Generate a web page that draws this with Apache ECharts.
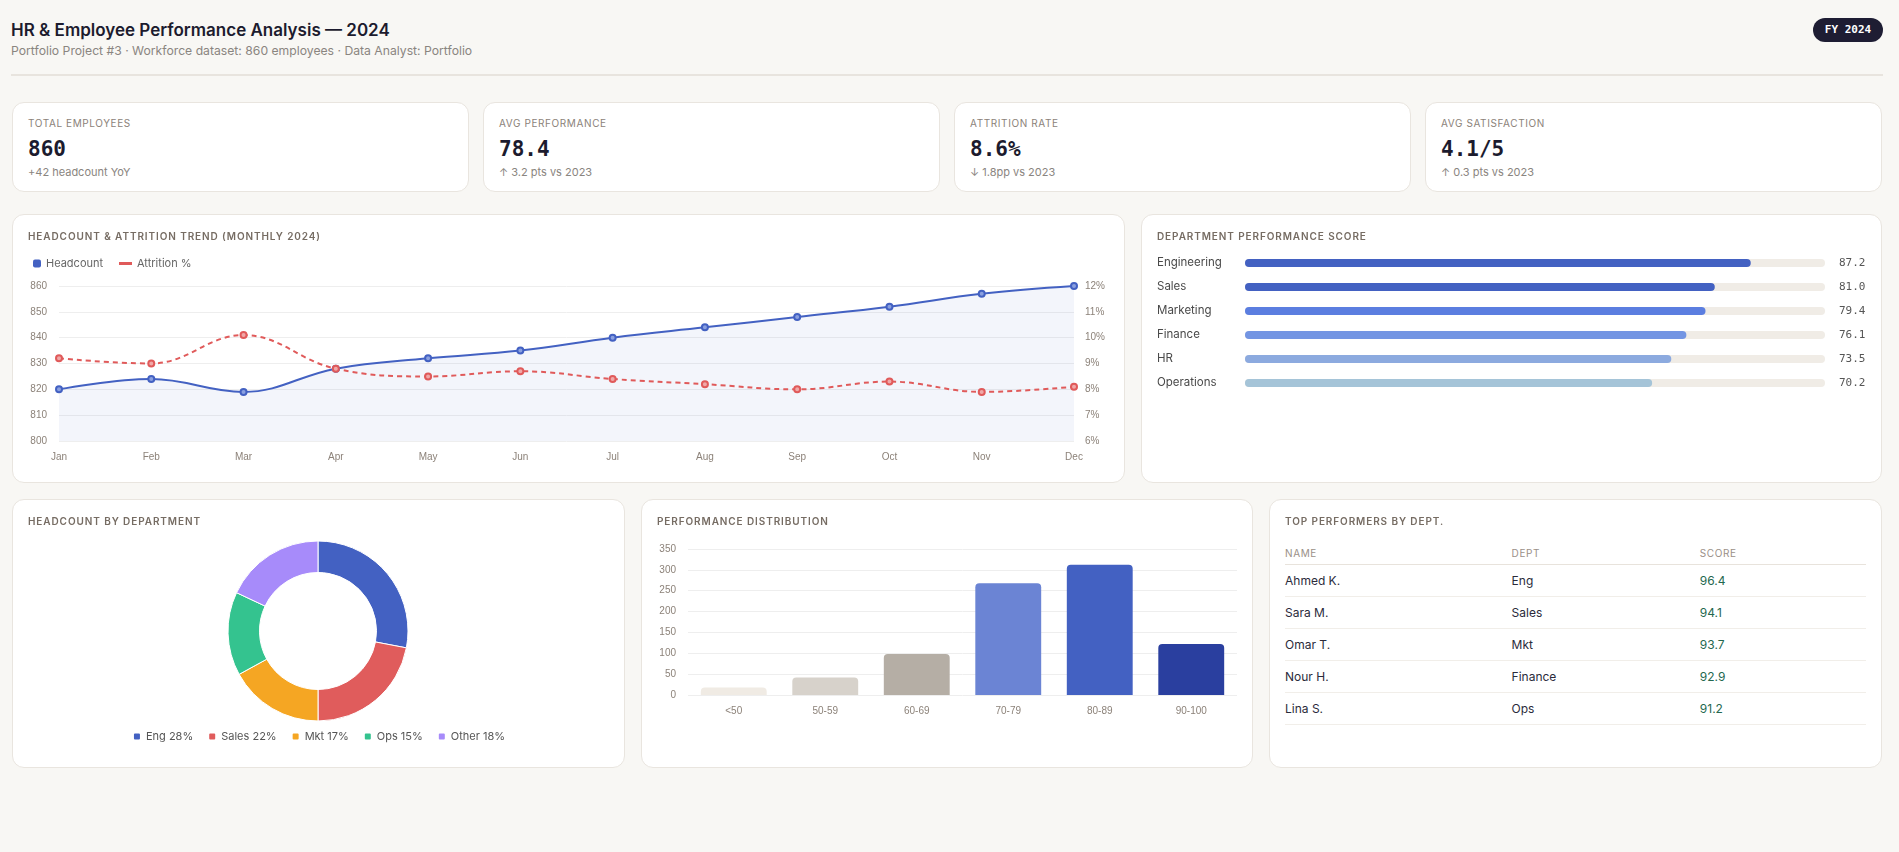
<!DOCTYPE html>
<html>
<head>
<meta charset="utf-8">
<title>HR & Employee Performance Analysis — 2024</title>
<script src="https://cdn.jsdelivr.net/npm/echarts@6/dist/echarts.min.js"></script>
<style>
  body { margin: 0; background: #f8f7f4; font-family: Inter, 'Noto Sans', sans-serif; color: #1c1b2e; }
  .page { position: relative; width: 1899px; height: 852px; overflow: hidden; }
  .card { position: absolute; background: #fff; border: 1px solid #e9e5df; border-radius: 12px; box-sizing: border-box; }
  .h1 { position: absolute; left: 11px; top: 20px; font-size: 17px; line-height: 20px; font-weight: 600; color: #1c1b2e; }
  .sub { position: absolute; left: 11px; top: 43px; font-size: 12.2px; line-height: 16px; color: #8a8580; }
  .rule { position: absolute; left: 11px; top: 74px; width: 1872px; height: 2px; background: #e8e4de; }
  .badge { position: absolute; left: 1813px; top: 18px; width: 70px; height: 24px; border-radius: 12px;
           background: #1e1d33; color: #fff; text-align: center; font: bold 11px 'DejaVu Sans Mono', monospace; line-height: 24px; }
  .kpi-label { position: absolute; left: 15px; top: 14px; font-size: 10px; line-height: 12px; letter-spacing: 0.6px; color: #8b8279; }
  .kpi-value { position: absolute; left: 15px; top: 34px; font: bold 21px 'DejaVu Sans Mono', monospace; line-height: 24px; color: #1c1b2e; }
  .kpi-note { position: absolute; left: 15px; top: 62px; font-size: 11px; line-height: 14px; color: #8a8580; }
  .ctitle { position: absolute; left: 15px; top: 15px; font-size: 10px; line-height: 12px; font-weight: 600; letter-spacing: 0.9px; color: #766c63; z-index: 2; }
  .chart { position: absolute; left: 0; top: 0; width: 100%; height: 100%; }
  table { position: absolute; left: 15px; top: 41px; width: 581px; border-collapse: collapse; font-size: 12px; }
  th { text-align: left; font-weight: 400; font-size: 10px; letter-spacing: 0.6px; color: #9a9088; height: 23px; border-bottom: 1px solid #e8e3dc; padding: 0; }
  td { height: 31px; border-bottom: 1px solid #f1eee9; padding: 0; color: #2b2b3b; }
  td.score { color: #24684f; }
</style>
</head>
<body>
<div class="page">
  <div class="h1">HR &amp; Employee Performance Analysis — 2024</div>
  <div class="sub">Portfolio Project #3 · Workforce dataset: 860 employees · Data Analyst: Portfolio</div>
  <div class="badge">FY 2024</div>
  <div class="rule"></div>

  <div id="kpis"></div>

  <div class="card" style="left:12px;top:214px;width:1113px;height:269px">
    <div class="ctitle">HEADCOUNT &amp; ATTRITION TREND (MONTHLY 2024)</div>
    <div class="chart" id="trend"></div>
  </div>
  <div class="card" style="left:1141px;top:214px;width:741px;height:269px">
    <div class="ctitle">DEPARTMENT PERFORMANCE SCORE</div>
    <div class="chart" id="deptScore"></div>
  </div>

  <div class="card" style="left:12px;top:499px;width:613px;height:269px">
    <div class="ctitle">HEADCOUNT BY DEPARTMENT</div>
    <div class="chart" id="donut"></div>
  </div>
  <div class="card" style="left:641px;top:499px;width:612px;height:269px">
    <div class="ctitle">PERFORMANCE DISTRIBUTION</div>
    <div class="chart" id="dist"></div>
  </div>
  <div class="card" style="left:1269px;top:499px;width:613px;height:269px">
    <div class="ctitle">TOP PERFORMERS BY DEPT.</div>
    <table id="top"></table>
  </div>
</div>

<script>
  // data
  var kpiLabels = ['TOTAL EMPLOYEES', 'AVG PERFORMANCE', 'ATTRITION RATE', 'AVG SATISFACTION'];
  var kpiValues = ['860', '78.4', '8.6%', '4.1/5'];
  var kpiNotes = ['+42 headcount YoY', '↑ 3.2 pts vs 2023', '↓ 1.8pp vs 2023', '↑ 0.3 pts vs 2023'];

  var months = ['Jan', 'Feb', 'Mar', 'Apr', 'May', 'Jun', 'Jul', 'Aug', 'Sep', 'Oct', 'Nov', 'Dec'];
  var headcount = [820, 824, 819, 828, 832, 835, 840, 844, 848, 852, 857, 860];
  var attrition = [9.2, 9.0, 10.1, 8.8, 8.5, 8.7, 8.4, 8.2, 8.0, 8.3, 7.9, 8.1];

  var departments = ['Engineering', 'Sales', 'Marketing', 'Finance', 'HR', 'Operations'];
  var deptScores = [87.2, 81.0, 79.4, 76.1, 73.5, 70.2];

  var shareNames = ['Eng', 'Sales', 'Mkt', 'Ops', 'Other'];
  var shareValues = [28, 22, 17, 15, 18];

  var bands = ['<50', '50-59', '60-69', '70-79', '80-89', '90-100'];
  var bandCounts = [18, 42, 98, 268, 312, 122];

  var tableHead = ['NAME', 'DEPT', 'SCORE'];
  var performerNames = ['Ahmed K.', 'Sara M.', 'Omar T.', 'Nour H.', 'Lina S.'];
  var performerDepts = ['Eng', 'Sales', 'Mkt', 'Finance', 'Ops'];
  var performerScores = ['96.4', '94.1', '93.7', '92.9', '91.2'];

  // styles
  var BLUE = '#4361c2', RED = '#e05a5a';
  var deptColors = ['#4361c2', '#4361c2', '#5b7ee0', '#7395e3', '#8caadf', '#a5c4d8'];
  var shareColors = ['#4361c2', '#e05c5c', '#f5a623', '#34c38f', '#a78bfa'];
  var bandColors = ['#f0ebe4', '#d7d2cb', '#b5aea5', '#6b84d4', '#4361c2', '#2a3f9f'];
  var axisText = { color: '#8c8279', fontSize: 10, fontFamily: 'Liberation Sans, Arial, sans-serif' };

  // kpi cards
  var kpiBox = document.getElementById('kpis');
  kpiLabels.forEach(function(label, i) {
    var card = document.createElement('div');
    card.className = 'card';
    card.style.cssText = 'left:' + (12 + i * 471) + 'px;top:102px;width:457px;height:90px';
    card.innerHTML = '<div class="kpi-label">' + label + '</div>' +
      '<div class="kpi-value">' + kpiValues[i] + '</div>' +
      '<div class="kpi-note">' + kpiNotes[i] + '</div>';
    kpiBox.appendChild(card);
  });

  // table
  var html = '<tr>' + tableHead.map(function(h, i) {
    var w = ['39%', '32.4%', ''][i];
    return '<th' + (w ? ' style="width:' + w + '"' : '') + '>' + h + '</th>';
  }).join('') + '</tr>';
  performerNames.forEach(function(n, i) {
    html += '<tr><td>' + n + '</td><td>' + performerDepts[i] + '</td><td class="score">' + performerScores[i] + '</td></tr>';
  });
  document.getElementById('top').innerHTML = html;

  // headcount & attrition trend
  var trend = echarts.init(document.getElementById('trend'));
  trend.setOption({
    animation: false,
    legend: [
      { data: [{ name: 'Headcount', icon: 'roundRect', itemStyle: { color: BLUE, borderWidth: 0 } }],
        left: 15, top: 38, itemWidth: 8, itemHeight: 8,
        textStyle: { color: '#666', fontSize: 11, fontFamily: 'Inter' } },
      { data: [{ name: 'Attrition %', icon: 'rect', itemStyle: { color: RED, borderWidth: 0 } }],
        left: 101, top: 38, itemWidth: 13, itemHeight: 3,
        textStyle: { color: '#666', fontSize: 11, fontFamily: 'Inter' } }
    ],
    grid: { left: 46, right: 50, top: 71, bottom: 41, outerBoundsMode: 'none' },
    xAxis: {
      type: 'category', data: months, boundaryGap: false,
      axisLine: { show: false }, axisTick: { show: false },
      axisLabel: Object.assign({ margin: 11 }, axisText)
    },
    yAxis: [
      { type: 'value', min: 800, max: 860, interval: 10,
        axisLabel: Object.assign({ margin: 12 }, axisText),
        splitLine: { lineStyle: { color: '#eeeeee' } } },
      { type: 'value', min: 6, max: 12, interval: 1,
        axisLabel: Object.assign({ margin: 11, formatter: '{value}%' }, axisText),
        splitLine: { show: false } }
    ],
    series: [
      { name: 'Headcount', type: 'line', data: headcount, smooth: 0.4, yAxisIndex: 0,
        symbol: 'circle', symbolSize: 6,
        lineStyle: { color: BLUE, width: 2 },
        itemStyle: { color: '#8aa0e0', borderColor: BLUE, borderWidth: 2 },
        areaStyle: { color: 'rgba(67,97,194,0.09)' } },
      { name: 'Attrition %', type: 'line', data: attrition, smooth: 0.4, yAxisIndex: 1,
        symbol: 'circle', symbolSize: 6,
        lineStyle: { color: RED, width: 2, type: [5, 4] },
        itemStyle: { color: '#f0a8a8', borderColor: RED, borderWidth: 2 } }
    ]
  });

  // department performance score
  var deptChart = echarts.init(document.getElementById('deptScore'));
  deptChart.setOption({
    animation: false,
    grid: { left: 103, right: 56, top: 36, bottom: 87, outerBoundsMode: 'none' },
    xAxis: { type: 'value', min: 0, max: 100, show: false },
    yAxis: [
      { type: 'category', data: departments, inverse: true,
        axisLine: { show: false }, axisTick: { show: false }, splitLine: { show: false },
        axisLabel: { align: 'left', margin: 88, color: '#4a4a4a', fontSize: 11.5, fontFamily: 'Inter', padding: [3, 0, 0, 0] } },
      { type: 'category', data: deptScores.map(function(v) { return v.toFixed(1); }), inverse: true, position: 'right',
        axisLine: { show: false }, axisTick: { show: false }, splitLine: { show: false },
        axisLabel: { align: 'left', margin: 14, color: '#555', fontSize: 11, fontFamily: 'DejaVu Sans Mono' } }
    ],
    series: [{
      type: 'bar', yAxisIndex: 0, barWidth: 8,
      data: deptScores.map(function(v, i) { return { value: v, itemStyle: { color: deptColors[i] } }; }),
      itemStyle: { borderRadius: 4 },
      showBackground: true,
      backgroundStyle: { color: '#f0ece6', borderRadius: 4 }
    }]
  });

  // headcount by department
  var donut = echarts.init(document.getElementById('donut'));
  donut.setOption({
    animation: false,
    legend: {
      top: 226, left: 'center', icon: 'roundRect', itemWidth: 8, itemHeight: 8, itemGap: 14,
      textStyle: { color: '#555', fontSize: 11, fontFamily: 'Inter' },
      formatter: function(name) { return name + ' ' + shareValues[shareNames.indexOf(name)] + '%'; }
    },
    series: [{
      type: 'pie', radius: [58.5, 90], center: [305, 131], startAngle: 90, clockwise: true,
      label: { show: false }, labelLine: { show: false },
      itemStyle: { borderColor: '#fff', borderWidth: 1 },
      data: shareNames.map(function(n, i) { return { name: n, value: shareValues[i], itemStyle: { color: shareColors[i] } }; })
    }]
  });

  // performance distribution
  var dist = echarts.init(document.getElementById('dist'));
  dist.setOption({
    animation: false,
    grid: { left: 46, right: 15, top: 49, bottom: 72, outerBoundsMode: 'none' },
    xAxis: {
      type: 'category', data: bands,
      axisLine: { show: false }, axisTick: { show: false },
      axisLabel: Object.assign({ margin: 11 }, axisText)
    },
    yAxis: {
      type: 'value', min: 0, max: 350, interval: 50,
      axisLabel: Object.assign({ margin: 12 }, axisText),
      splitLine: { lineStyle: { color: '#eeeeee' } }
    },
    series: [{
      type: 'bar', barWidth: '72%',
      itemStyle: { borderRadius: [4, 4, 0, 0] },
      data: bandCounts.map(function(v, i) { return { value: v, itemStyle: { color: bandColors[i] } }; })
    }]
  });
</script>
</body>
</html>
